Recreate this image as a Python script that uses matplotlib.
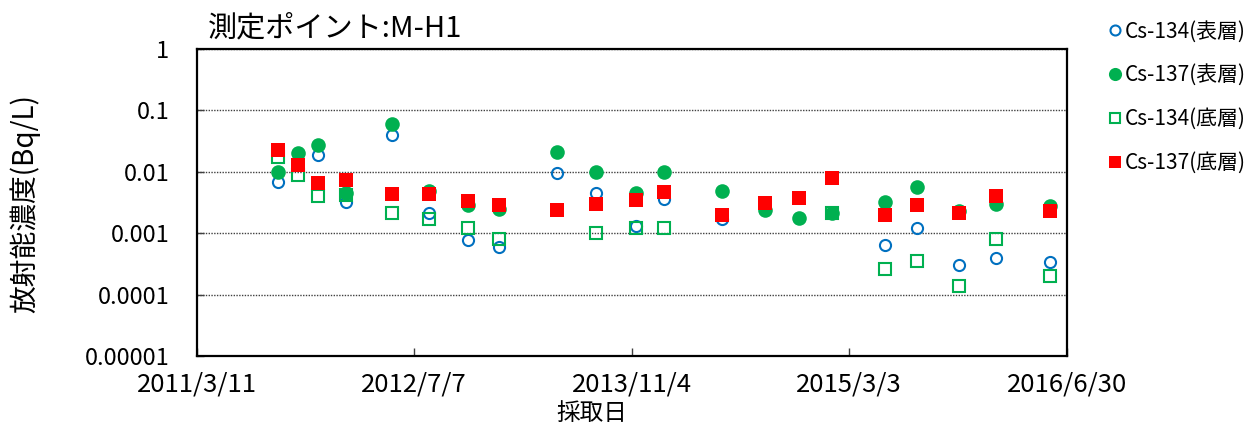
import numpy as np
import pandas as pd
import matplotlib
matplotlib.use("Agg")
import matplotlib.pyplot as plt

plt.rcParams['font.family'] = ['Noto Sans CJK JP', 'DejaVu Sans']

# sampling dates and values (Bq/L), nan = not shown
dates = ["2011-09-08", "2011-10-22", "2011-12-06", "2012-02-07", "2012-05-19",
         "2012-08-09", "2012-11-04", "2013-01-12", "2013-05-20", "2013-08-16",
         "2013-11-14", "2014-01-15", "2014-05-24", "2014-08-27", "2014-11-11",
         "2015-01-24", "2015-05-21", "2015-07-31", "2015-11-02", "2016-01-23",
         "2016-05-23"]
nan = np.nan
cs134_top = [0.0069, nan, 0.0188, 0.0032, 0.040, 0.0021, 0.00077, 0.00059, 0.0095, 0.0045,
             0.0013, 0.0036, 0.0017, nan, nan, nan, 0.00064, 0.0012, 0.00030, 0.00039,
             0.00034]
cs137_top = [0.0098, 0.0205, 0.0273, 0.0046, 0.059, 0.0048, 0.0029, 0.0025, 0.0207, 0.0098,
             0.0046, 0.0098, 0.0049, 0.0024, 0.00175, 0.0021, 0.0032, 0.0057, 0.0023, 0.0030,
             0.0028]
cs134_bot = [0.0176, 0.0089, 0.0040, 0.0042, 0.0021, 0.0017, 0.0012, 0.0008, nan, 0.0010,
             0.0012, 0.0012, nan, nan, nan, 0.0021, 0.00026, 0.00035, 0.00014, 0.0008,
             0.00020]
cs137_bot = [0.0227, 0.0129, 0.0065, 0.0074, 0.0043, 0.0043, 0.0033, 0.0029, 0.0024, 0.0030,
             0.0035, 0.0047, 0.0020, 0.0031, 0.0037, 0.0080, 0.0020, 0.0029, 0.0021, 0.0040,
             0.0023]

tick_dates = ["2011-03-11", "2012-07-07", "2013-11-04", "2015-03-03", "2016-06-30"]
tick_labels = ["2011/3/11", "2012/7/7", "2013/11/4", "2015/3/3", "2016/6/30"]
y_ticks = [1e-5, 1e-4, 1e-3, 1e-2, 1e-1, 1]
y_labels = ["0.00001", "0.0001", "0.001", "0.01", "0.1", "1"]

BLUE, GREEN, RED = "#0070C0", "#00B050", "#FF0000"

x = pd.to_datetime(dates)

fig = plt.figure(figsize=(12.56, 4.28), dpi=100)
ax = fig.add_axes([197 / 1256, 72 / 428, 870 / 1256, 307 / 428])

ax.plot(x, cs134_top, ls="none", marker="o", ms=8, mfc="none", mec=BLUE, mew=1.5,
        label="Cs-134(表層)")
ax.plot(x, cs137_top, ls="none", marker="o", ms=10.5, mfc=GREEN, mec=GREEN, mew=0,
        label="Cs-137(表層)")
ax.plot(x, cs134_bot, ls="none", marker="s", ms=8.5, mfc="none", mec=GREEN, mew=1.5,
        label="Cs-134(底層)")
ax.plot(x, cs137_bot, ls="none", marker="s", ms=10, mfc=RED, mec=RED, mew=0,
        label="Cs-137(底層)")

ax.set_yscale("log")
ax.set_ylim(1e-5, 1)
ax.set_yticks(y_ticks, y_labels)
ax.yaxis.set_minor_locator(matplotlib.ticker.NullLocator())
ax.set_xlim(pd.Timestamp(tick_dates[0]), pd.Timestamp(tick_dates[-1]))
ax.set_xticks(pd.to_datetime(tick_dates), tick_labels)

ax.grid(axis="y", which="major", color="#404040", lw=1, ls=(0, (1, 1)))
ax.tick_params(axis="x", direction="in", length=6, width=1, color="#404040",
               labelsize=18.5, pad=11)
ax.tick_params(axis="y", direction="in", length=5, width=1, color="#404040",
               labelsize=17, pad=20)
for s in ax.spines.values():
    s.set_linewidth(1.6)
    s.set_color("black")

fig.text(208 / 1256, 1 - 28 / 428, "測定ポイント:M-H1", fontsize=21, va="center", ha="left")
fig.text(25 / 1256, 1 - 204 / 428, "放射能濃度(Bq/L)", fontsize=20, rotation=90,
         va="center", ha="center")
fig.text(592 / 1256, 1 - 414 / 428, "採取日", fontsize=17, va="center", ha="center")

fig.legend(loc="upper left", bbox_to_anchor=(1100 / 1256, 1 - 12 / 428), frameon=False,
           fontsize=15, markerscale=0.9, handlelength=0.6, handletextpad=0.2,
           labelspacing=1.05, borderaxespad=0)

fig.savefig("out.png", dpi=100)
